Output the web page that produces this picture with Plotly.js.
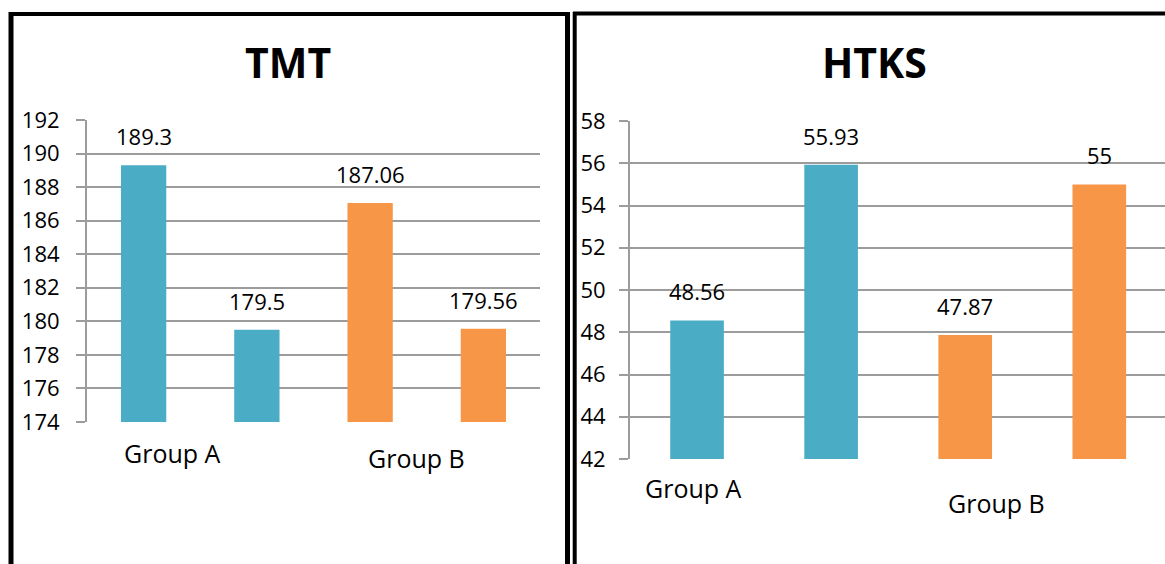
<!DOCTYPE html>
<html>
<head>
<meta charset="utf-8">
<script src="https://cdn.plot.ly/plotly-3.0.1.min.js"></script>
<style>
  html, body { margin: 0; padding: 0; background: #ffffff; }
  #chart { width: 1165px; height: 564px; }
</style>
</head>
<body>
<div id="chart"></div>
<script>
// Bar slots: pre/post for Group A, then pre/post for Group B
const barSlots = [0, 1, 2, 3];
const tmtValues = [189.3, 179.5, 187.06, 179.56];
const htksValues = [48.56, 55.93, 47.87, 55];
const tmtLabels = ['189.3', '179.5', '187.06', '179.56'];
const htksLabels = ['48.56', '55.93', '47.87', '55'];
const barColors = ['#4BACC6', '#4BACC6', '#F79646', '#F79646'];
const groupLabels = ['Group A', 'Group B'];
const panelTitles = ['TMT', 'HTKS'];

const W = 1165, H = 564;
const px = x => x / W;          // pixel column -> paper x
const py = y => 1 - y / H;      // pixel row -> paper y

const FONT = '"Open Sans", "DejaVu Sans", sans-serif';
const GRID = '#9c9c9c';

const traces = [
  {
    type: 'bar', x: barSlots, y: tmtValues, width: 0.4,
    marker: { color: barColors }, xaxis: 'x', yaxis: 'y',
    hoverinfo: 'skip', showlegend: false
  },
  {
    type: 'bar', x: barSlots, y: htksValues, width: 0.4,
    marker: { color: barColors }, xaxis: 'x2', yaxis: 'y2',
    hoverinfo: 'skip', showlegend: false
  }
];

function yAxis(range, domain, anchor, standoff) {
  return {
    range: range, domain: domain, anchor: anchor,
    dtick: 2, tick0: 0,
    showgrid: true, gridcolor: GRID, gridwidth: 2,
    showline: true, linecolor: GRID, linewidth: 2,
    ticks: 'outside', ticklen: 9, tickwidth: 2, tickcolor: GRID,
    ticklabelstandoff: standoff,
    zeroline: false, fixedrange: true,
    tickfont: { family: FONT, size: 22, color: '#000' }
  };
}
function xAxis(range, domain, anchor) {
  return {
    range: range, domain: domain, anchor: anchor,
    showticklabels: false, showgrid: false, zeroline: false,
    showline: false, ticks: '', fixedrange: true
  };
}

const annotations = [];
function valueLabels(values, labels, xr, yr) {
  values.forEach((v, i) => {
    annotations.push({
      x: barSlots[i], y: v, xref: xr, yref: yr,
      text: labels[i], showarrow: false,
      xanchor: 'center', yanchor: 'bottom', yshift: 12,
      font: { family: FONT, size: 22, color: '#000' }
    });
  });
}
valueLabels(tmtValues, tmtLabels, 'x', 'y');
valueLabels(htksValues, htksLabels, 'x2', 'y2');

// Panel titles
annotations.push({
  x: px(288), y: py(62), xref: 'paper', yref: 'paper',
  text: '<b>' + panelTitles[0] + '</b>', showarrow: false,
  xanchor: 'center', yanchor: 'middle',
  font: { family: FONT, size: 41, color: '#000' }
});
annotations.push({
  x: px(874), y: py(62), xref: 'paper', yref: 'paper',
  text: '<b>' + panelTitles[1] + '</b>', showarrow: false,
  xanchor: 'center', yanchor: 'middle',
  font: { family: FONT, size: 41, color: '#000' }
});

// Group captions under each panel
const groupSpots = [
  [px(172), py(453)], [px(416), py(458)],
  [px(693), py(488)], [px(996), py(503)]
];
groupSpots.forEach((p, k) => {
  annotations.push({
    x: p[0], y: p[1], xref: 'paper', yref: 'paper',
    text: groupLabels[k % 2], showarrow: false,
    xanchor: 'center', yanchor: 'middle',
    font: { family: FONT, size: 25, color: '#000' }
  });
});

// Panel frames
const frame = (x0, y0, x1, y1, w) => ({
  type: 'line', xref: 'paper', yref: 'paper',
  x0: x0, y0: y0, x1: x1, y1: y1,
  line: { color: '#000', width: w }
});
const shapes = [
  frame(px(11), py(12), px(11), -0.02, 5),
  frame(px(9), py(14), px(570), py(14), 4),
  frame(px(567.5), py(12), px(567.5), -0.02, 5),
  frame(px(574.7), py(12), px(574.7), -0.02, 4),
  frame(px(573), py(13.5), 1.02, py(13.5), 4)
];

const layout = {
  width: W, height: H,
  margin: { l: 0, r: 0, t: 0, b: 0, pad: 0 },
  paper_bgcolor: '#ffffff', plot_bgcolor: '#ffffff',
  showlegend: false,
  xaxis: xAxis([-0.5, 3.5], [px(87), px(540)], 'y'),
  yaxis: yAxis([174, 192], [py(422), py(120)], 'x', 12),
  xaxis2: xAxis([-0.5, 3.49], [px(630), 1], 'y2'),
  yaxis2: yAxis([42, 58], [py(459), py(121)], 'x2', 9),
  annotations: annotations,
  shapes: shapes
};

Plotly.newPlot('chart', traces, layout, { staticPlot: true, displayModeBar: false });
</script>
</body>
</html>
